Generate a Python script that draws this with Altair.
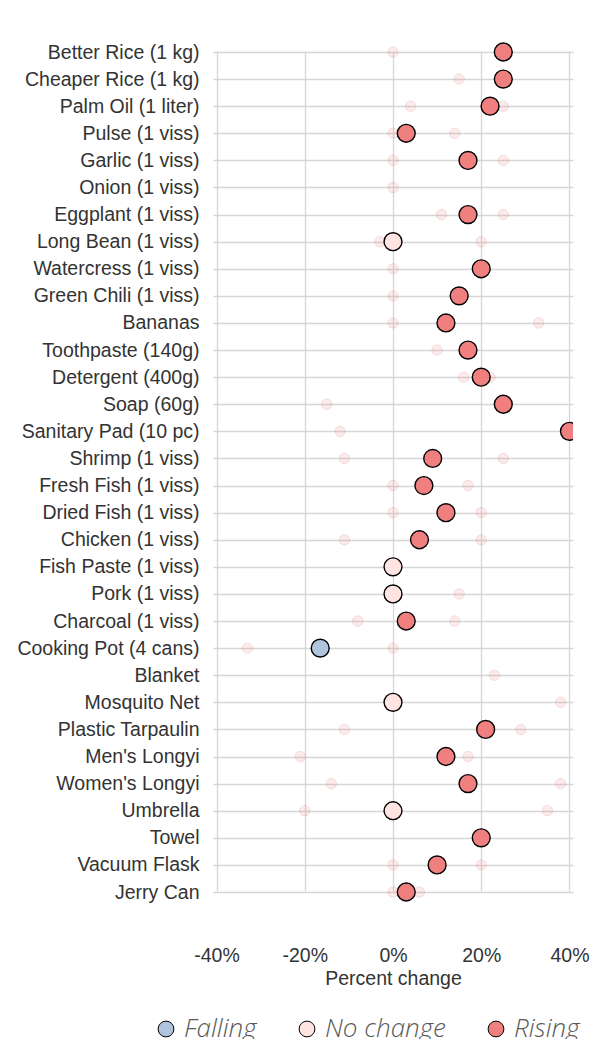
import altair as alt
import pandas as pd

items = [
    "Better Rice (1 kg)", "Cheaper Rice (1 kg)", "Palm Oil (1 liter)", "Pulse (1 viss)",
    "Garlic (1 viss)", "Onion (1 viss)", "Eggplant (1 viss)", "Long Bean (1 viss)",
    "Watercress (1 viss)", "Green Chili (1 viss)", "Bananas", "Toothpaste (140g)",
    "Detergent (400g)", "Soap (60g)", "Sanitary Pad (10 pc)", "Shrimp (1 viss)",
    "Fresh Fish (1 viss)", "Dried Fish (1 viss)", "Chicken (1 viss)", "Fish Paste (1 viss)",
    "Pork (1 viss)", "Charcoal (1 viss)", "Cooking Pot (4 cans)", "Blanket",
    "Mosquito Net", "Plastic Tarpaulin", "Men's Longyi", "Women's Longyi",
    "Umbrella", "Towel", "Vacuum Flask", "Jerry Can",
]

# latest percent change (None = no value shown)
current = [25, 25, 22, 3, 17, None, 17, 0, 20, 15, 12, 17, 20, 25, 40, 9,
           7, 12, 6, 0, 0, 3, -16.5, None, 0, 21, 12, 17, 0, 20, 10, 3]

# earlier percent changes (faint points)
earlier_a = [0, 15, 4, 0, 0, 0, 11, -3, 0, 0, 0, 10, 16, -15, -12, -11,
             0, 0, -11, None, 15, -8, -33, 23, 38, -11, -21, -14, -20, None, 0, 0]
earlier_b = [None, None, 25, 14, 25, None, 25, 20, None, None, 33, None, 22, None, None, 25,
             17, 20, 20, None, None, 14, 0, None, None, 29, 17, 38, 35, None, 20, 6]

statuses = ["Falling", "No change", "Rising"]
status_colors = ["#b0c4de", "#ffe4e1", "#f08080"]

main_rows = []
for it, v in zip(items, current):
    if v is None:
        continue
    s = "Rising" if v > 0 else ("Falling" if v < 0 else "No change")
    main_rows.append({"item": it, "value": v, "status": s})
main_df = pd.DataFrame(main_rows)

faint_rows = []
for it, a, b in zip(items, earlier_a, earlier_b):
    for v in (a, b):
        if v is not None:
            faint_rows.append({"item": it, "value": v})
faint_df = pd.DataFrame(faint_rows)

y_enc = alt.Y(
    "item:N",
    sort=items,
    scale=alt.Scale(type="point", domain=items, range=[41, 881], padding=0),
    axis=alt.Axis(title=None, ticks=False, tickSize=0, domain=False, labelPadding=14,
                  labelFont="Liberation Sans", labelFontSize=19.5, labelColor="#333333",
                  grid=True, labelLimit=300),
)
x_enc = alt.X(
    "value:Q",
    scale=alt.Scale(domain=[-40.8, 40.8], nice=False, zero=False),
    axis=alt.Axis(values=[-40, -20, 0, 20, 40], labelExpr="datum.value + '%'",
                  title="Percent change", ticks=False, tickSize=0, domain=False,
                  labelPadding=14, labelFont="Liberation Sans", labelFontSize=19.5,
                  labelColor="#333333", titleFont="Liberation Sans", titleFontSize=19.5,
                  titleFontWeight="normal", titleColor="#333333", titlePadding=5, grid=True),
)

faint = alt.Chart(faint_df).mark_circle(
    size=110, fill="#f08080", fillOpacity=0.16, stroke="#c07070", strokeOpacity=0.18,
    strokeWidth=1, opacity=1, clip=True,
).encode(x=x_enc, y=y_enc)

main = alt.Chart(main_df).mark_circle(
    size=320, stroke="black", strokeWidth=1.4, opacity=1, clip=True,
).encode(
    x=x_enc,
    y=y_enc,
    color=alt.Color(
        "status:N",
        scale=alt.Scale(domain=statuses, range=status_colors),
        legend=alt.Legend(
            title=None, orient="none", direction="horizontal", legendX=-60, legendY=1005,
            symbolType="circle", symbolSize=250, symbolStrokeColor="black",
            symbolStrokeWidth=1, symbolOpacity=1, labelFont="Open Sans",
            labelFontStyle="italic", labelFontWeight=300, labelFontSize=26,
            labelColor="#5a5a5a", labelOffset=5, columnPadding=37,
        ),
    ),
)

chart = alt.layer(faint, main).properties(
    width=360,
    height=921,
    autosize=alt.AutoSizeParams(type="none"),
    padding={"left": 213, "top": 11, "right": 29, "bottom": 107},
).configure_view(stroke=None).configure_axis(
    gridColor="#d6d6d6", gridWidth=1.3
)

chart.save("out.html", embed_options={"renderer": "svg", "actions": False})
